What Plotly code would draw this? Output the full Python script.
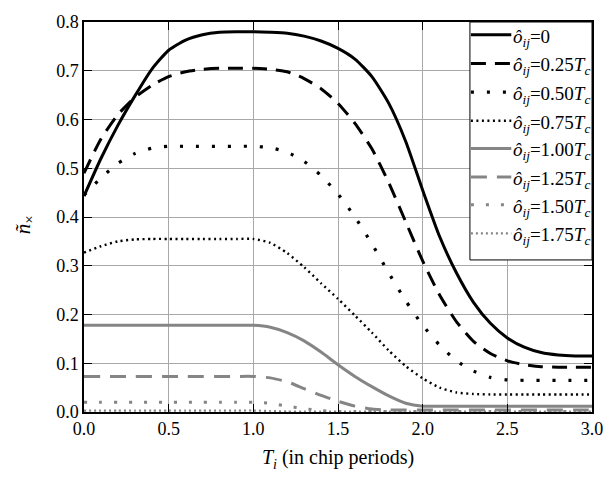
import plotly.graph_objects as go

# Integration time T_i in chip periods (sampling grid)
t_i = [0.0, 0.1, 0.2, 0.3, 0.4, 0.5, 0.6, 0.7, 0.8, 0.9, 1.0,
       1.1, 1.2, 1.3, 1.4, 1.5, 1.6, 1.7, 1.8, 1.9, 2.0,
       2.1, 2.2, 2.3, 2.4, 2.5, 2.6, 2.7, 2.8, 2.9, 3.0]

# Normalised cross term for each code offset
n_0 = [0.443, 0.52, 0.588, 0.648, 0.703, 0.742, 0.763, 0.774, 0.779, 0.78, 0.78,
       0.779, 0.777, 0.771, 0.761, 0.746, 0.724, 0.688, 0.633, 0.555, 0.455,
       0.36, 0.285, 0.225, 0.182, 0.152, 0.133, 0.122, 0.117, 0.115, 0.115]
n_025 = [0.49, 0.56, 0.61, 0.645, 0.67, 0.688, 0.698, 0.703, 0.705, 0.705, 0.705,
         0.703, 0.698, 0.684, 0.663, 0.633, 0.592, 0.54, 0.47, 0.39, 0.31,
         0.24, 0.185, 0.145, 0.12, 0.105, 0.097, 0.093, 0.092, 0.092, 0.092]
n_050 = [0.445, 0.48, 0.51, 0.53, 0.541, 0.545, 0.545, 0.545, 0.545, 0.545, 0.545,
         0.542, 0.533, 0.514, 0.485, 0.447, 0.40, 0.345, 0.285, 0.228, 0.178,
         0.137, 0.105, 0.084, 0.071, 0.066, 0.065, 0.065, 0.065, 0.065, 0.065]
n_075 = [0.327, 0.34, 0.35, 0.354, 0.355, 0.355, 0.355, 0.355, 0.355, 0.355, 0.355,
         0.347, 0.326, 0.297, 0.264, 0.232, 0.198, 0.163, 0.126, 0.094, 0.069,
         0.050, 0.040, 0.037, 0.036, 0.036, 0.036, 0.036, 0.036, 0.036, 0.036]
n_100 = [0.178, 0.178, 0.178, 0.178, 0.178, 0.178, 0.178, 0.178, 0.178, 0.178, 0.178,
         0.174, 0.163, 0.146, 0.123, 0.097, 0.073, 0.052, 0.033, 0.018, 0.012,
         0.012, 0.012, 0.012, 0.012, 0.012, 0.012, 0.012, 0.012, 0.012, 0.012]
n_125 = [0.073, 0.073, 0.073, 0.073, 0.073, 0.073, 0.073, 0.073, 0.073, 0.073, 0.073,
         0.070, 0.062, 0.048, 0.034, 0.022, 0.012, 0.006, 0.004, 0.004, 0.004,
         0.004, 0.004, 0.004, 0.004, 0.004, 0.004, 0.004, 0.004, 0.004, 0.004]
n_150 = [0.020, 0.020, 0.020, 0.020, 0.020, 0.020, 0.020, 0.020, 0.020, 0.020, 0.020,
         0.018, 0.012, 0.007, 0.003, 0.001, 0.001, 0.001, 0.001, 0.001, 0.001,
         0.001, 0.001, 0.001, 0.001, 0.001, 0.001, 0.001, 0.001, 0.001, 0.001]
n_175 = [0.003, 0.003, 0.003, 0.003, 0.003, 0.003, 0.003, 0.003, 0.003, 0.003, 0.003,
         0.002, 0.001, 0.001, 0.001, 0.001, 0.001, 0.001, 0.001, 0.001, 0.001,
         0.001, 0.001, 0.001, 0.001, 0.001, 0.001, 0.001, 0.001, 0.001, 0.001]

offset_labels = ["0", "0.25<i>T</i><sub><i>c</i></sub>", "0.50<i>T</i><sub><i>c</i></sub>",
                 "0.75<i>T</i><sub><i>c</i></sub>", "1.00<i>T</i><sub><i>c</i></sub>",
                 "1.25<i>T</i><sub><i>c</i></sub>", "1.50<i>T</i><sub><i>c</i></sub>",
                 "1.75<i>T</i><sub><i>c</i></sub>"]
series = [n_0, n_025, n_050, n_075, n_100, n_125, n_150, n_175]

GRAY = "#858585"
styles = [
    dict(color="black", width=3, dash="solid"),
    dict(color="black", width=3, dash="15px,9px"),
    dict(color="black", width=3.2, dash="3px,13px"),
    dict(color="black", width=2.4, dash="2px,3.5px"),
    dict(color=GRAY, width=3, dash="solid"),
    dict(color=GRAY, width=3, dash="16px,10px"),
    dict(color=GRAY, width=3, dash="3px,12px"),
    dict(color=GRAY, width=2.2, dash="2px,3px"),
]

SERIF = "Liberation Serif"
W, H = 615, 486
ML, MR, MT, MB = 84, 15, 17, 74
PW, PH = W - ML - MR, H - MT - MB


def px_x(px):
    """Pixel column -> paper x."""
    return (px - ML) / PW


def px_y(py):
    """Pixel row (from top) -> paper y."""
    return (H - MB - py) / PH


fig = go.Figure()
for vals, lab, st in zip(series, offset_labels, styles):
    fig.add_trace(go.Scatter(
        x=t_i, y=vals, mode="lines",
        line=dict(shape="spline", smoothing=0.6, **st),
        name="<i>ô</i><sub><i>ij</i></sub>=" + lab,
        showlegend=False,
    ))

axis_common = dict(
    showgrid=True, gridcolor="#a8a8a8", gridwidth=1,
    showline=True, linecolor="black", linewidth=1.5, mirror="ticks",
    ticks="inside", ticklen=8, tickwidth=1.2, tickcolor="black",
    tickfont=dict(family=SERIF, size=18, color="black"),
    zeroline=False,
)

fig.update_xaxes(range=[0, 3], dtick=0.5, tickformat=".1f",
                 title=dict(text="<i>T</i><sub><i>i</i></sub> (in chip periods)",
                            font=dict(family=SERIF, size=20, color="black"),
                            standoff=12),
                 **axis_common)
fig.update_yaxes(range=[0, 0.8], dtick=0.1, tickformat=".1f", **axis_common)

# Boxed key in the upper-right corner of the plot area
key_left, key_right, key_top, key_bottom = 476, 600, 17, 258
shapes = [dict(type="rect", xref="paper", yref="paper", layer="above",
               x0=px_x(key_left), x1=px_x(key_right),
               y0=px_y(key_bottom), y1=px_y(key_top),
               fillcolor="white", line=dict(color="black", width=1))]
annotations = []
row_y = [30, 59, 88, 117, 145, 174, 202, 231]
for ry, lab, st in zip(row_y, offset_labels, styles):
    shapes.append(dict(type="line", xref="paper", yref="paper", layer="above",
                       x0=px_x(key_left + 1), x1=px_x(key_left + 42),
                       y0=px_y(ry), y1=px_y(ry),
                       line=dict(color=st["color"], width=st["width"], dash=st["dash"])))
    annotations.append(dict(
        text="<i>ô</i><sub><i>ij</i></sub>=" + lab,
        xref="paper", yref="paper", x=px_x(key_left + 42), y=px_y(ry + 3),
        xanchor="left", yanchor="middle", showarrow=False,
        font=dict(family=SERIF, size=19, color="black"),
    ))

# Vertical axis label
annotations.append(dict(
    text="<i>ñ</i><sub>×</sub>", xref="paper", yref="paper",
    x=px_x(23), y=px_y(222), xanchor="center", yanchor="middle",
    textangle=-90, showarrow=False,
    font=dict(family=SERIF, size=21, color="black"),
))

fig.update_layout(
    width=W, height=H,
    margin=dict(l=ML, r=MR, t=MT, b=MB),
    paper_bgcolor="white", plot_bgcolor="white",
    showlegend=False,
    shapes=shapes,
    annotations=annotations,
)

fig.write_html("out.html")
